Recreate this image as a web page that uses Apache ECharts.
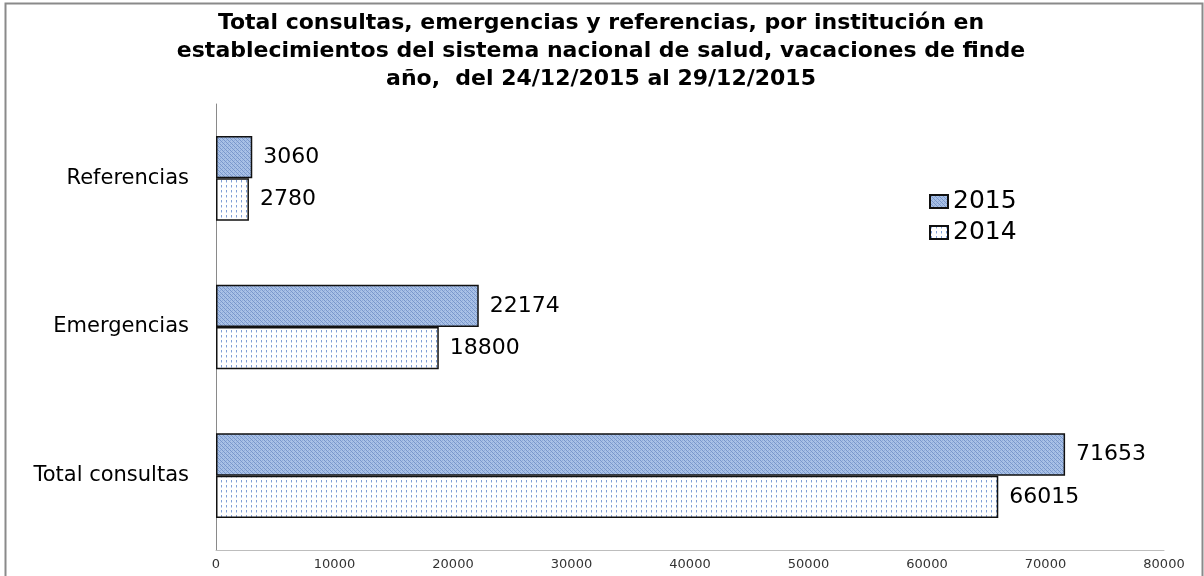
<!DOCTYPE html>
<html>
<head>
<meta charset="utf-8">
<script src="https://cdn.jsdelivr.net/npm/echarts@6/dist/echarts.min.js"></script>
<style>
  html, body { margin: 0; padding: 0; background: #fff; }
  #chart { width: 1204px; height: 576px; }
</style>
</head>
<body>
<div id="chart"></div>
<script>
// categories from bottom to top
var categories = ['Total consultas', 'Emergencias', 'Referencias'];
var values2015 = [71653, 22174, 3060];
var values2014 = [66015, 18800, 2780];
var xTicks = [0, 10000, 20000, 30000, 40000, 50000, 60000, 70000, 80000];

// fill patterns like the old office chart
function hatch() {
  var c = document.createElement('canvas');
  c.width = 4; c.height = 4;
  var g = c.getContext('2d');
  g.fillStyle = '#a9c1e6';
  g.fillRect(0, 0, 4, 4);
  g.fillStyle = '#7896cb';
  g.fillRect(0, 0, 1, 1); g.fillRect(1, 1, 1, 1); g.fillRect(2, 2, 1, 1); g.fillRect(3, 3, 1, 1);
  g.fillStyle = '#90abda';
  g.fillRect(2, 0, 1, 1); g.fillRect(0, 2, 1, 1);
  return c;
}
function dots() {
  var c = document.createElement('canvas');
  c.width = 5; c.height = 5;
  var g = c.getContext('2d');
  g.fillStyle = '#ffffff';
  g.fillRect(0, 0, 5, 5);
  g.fillStyle = '#7f9fd6';
  g.fillRect(1, 0, 1, 2);
  g.fillStyle = '#c3d3ee';
  g.fillRect(1, 2, 1, 1);
  return c;
}

var chart = echarts.init(document.getElementById('chart'));
var font = 'DejaVu Sans';
var labelStyle = {
  show: true,
  position: 'right',
  distance: 11,
  color: '#000',
  fontSize: 22,
  fontFamily: font
};

chart.setOption({
  animation: false,
  backgroundColor: '#fff',
  title: {
    text: 'Total consultas, emergencias y referencias, por institución en\nestablecimientos del sistema nacional de salud, vacaciones de finde\naño,  del 24/12/2015 al 29/12/2015',
    left: 596,
    textAlign: 'center',
    top: 4,
    textStyle: {
      fontFamily: font,
      fontWeight: 'bold',
      fontSize: 22,
      lineHeight: 28,
      color: '#000'
    }
  },
  legend: {
    data: ['2015', '2014'],
    orient: 'vertical',
    left: 924,
    top: 184,
    icon: 'rect',
    itemWidth: 18,
    itemHeight: 13,
    itemGap: 6,
    textStyle: { fontFamily: font, fontSize: 25, color: '#000' }
  },
  graphic: [{
    type: 'rect',
    shape: { x: 5.5, y: 3.5, width: 1197, height: 600 },
    style: { fill: 'none', stroke: '#8a8a8a', lineWidth: 2 },
    silent: true
  }],
  grid: { left: 216, right: 40, top: 104, bottom: 26, containLabel: false },
  xAxis: {
    type: 'value',
    min: xTicks[0],
    max: xTicks[xTicks.length - 1],
    interval: 10000,
    splitLine: { show: false },
    axisLine: { show: true, lineStyle: { color: '#bdbdbd' } },
    axisTick: { show: false },
    axisLabel: {
      color: '#333', fontSize: 13, fontFamily: font, margin: 8,
      formatter: function (v) { return String(v); }
    }
  },
  yAxis: {
    type: 'category',
    data: categories,
    axisLine: { show: true, lineStyle: { color: '#8a8a8a' } },
    axisTick: { show: false },
    axisLabel: { color: '#000', fontSize: 21, fontFamily: font, margin: 27 }
  },
  series: [
    {
      name: '2015',
      type: 'bar',
      data: values2015,
      barGap: '0%',
      barCategoryGap: '43%',
      itemStyle: {
        color: { image: hatch(), repeat: 'repeat' },
        borderColor: '#111',
        borderWidth: 1.5
      },
      label: labelStyle
    },
    {
      name: '2014',
      type: 'bar',
      data: values2014,
      barGap: '0%',
      barCategoryGap: '43%',
      itemStyle: {
        color: { image: dots(), repeat: 'repeat' },
        borderColor: '#111',
        borderWidth: 1.5
      },
      label: labelStyle
    }
  ]
});
</script>
</body>
</html>
